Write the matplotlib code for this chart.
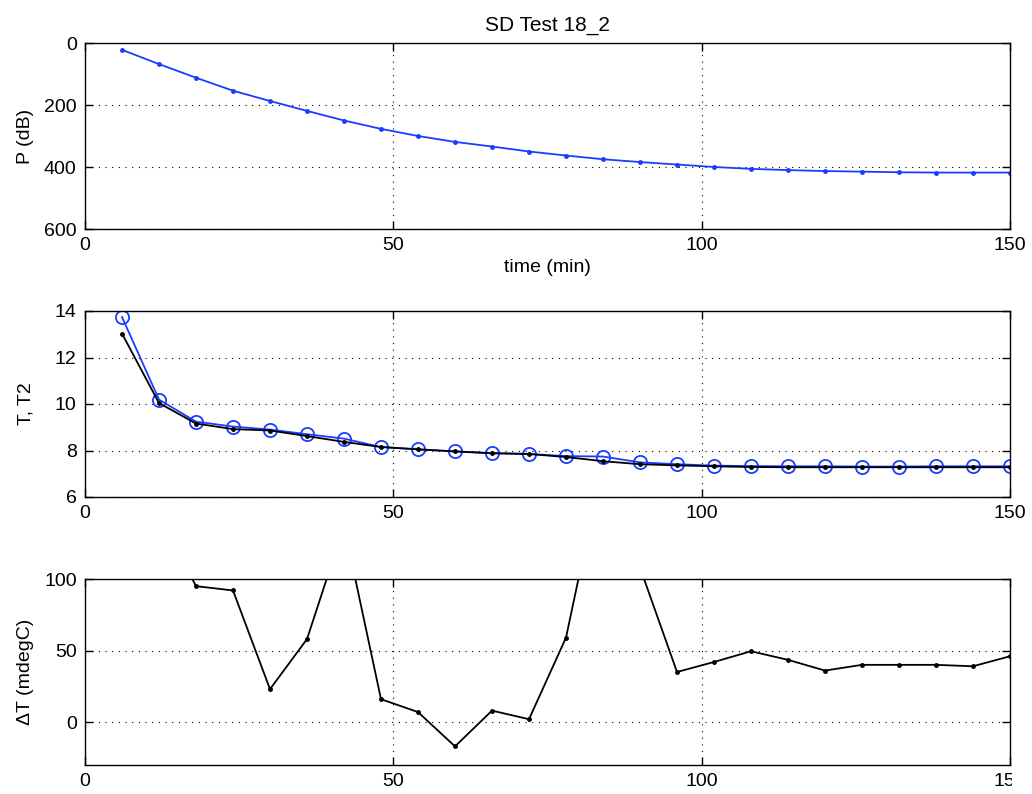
import numpy as np
import matplotlib
matplotlib.use('Agg')
import matplotlib.pyplot as plt
from matplotlib.transforms import Bbox

plt.rcParams['font.family'] = ['Liberation Sans', 'DejaVu Sans']
plt.rcParams['font.size'] = 12

# time axis (min)
t = [6, 12, 18, 24, 30, 36, 42, 48, 54, 60, 66, 72, 78,
     84, 90, 96, 102, 108, 114, 120, 126, 132, 138, 144, 150]

# pressure (dB)
P = [22, 68, 112, 154, 187, 219, 250, 277, 300, 319, 334, 350, 363,
     375, 384, 392, 400, 406, 410, 413, 415, 417, 418, 418, 418]

# temperatures
T = [13.03, 10.04, 9.16, 8.92, 8.86, 8.62, 8.37, 8.15, 8.05, 7.96, 7.88, 7.85, 7.72,
     7.54, 7.41, 7.36, 7.32, 7.29, 7.28, 7.28, 7.28, 7.28, 7.28, 7.28, 7.28]
T2 = [13.74, 10.19, 9.24, 9.03, 8.90, 8.70, 8.51, 8.15, 8.05, 7.96, 7.89, 7.85, 7.76,
      7.74, 7.49, 7.41, 7.35, 7.33, 7.32, 7.32, 7.31, 7.31, 7.32, 7.32, 7.32]

# delta T (mdegC)
dT = [700, 145, 95, 92, 23, 58, 137, 16, 7, -17, 8, 2, 59,
      181, 108, 35, 42, 49.5, 43.5, 36, 40, 40, 40, 39, 46]

blue = '#1a3cff'

fig = plt.figure(figsize=(10.32, 7.94), dpi=100)

W, H = 1032.0, 794.0
left = 85 / W
width = 925 / W
hgt = 186 / H

def setup(ax):
    ax.set_xlim(0, 150)
    ax.set_xticks([0, 50, 100, 150])
    ax.tick_params(direction='in', top=True, right=True, length=6, width=1,
                   labelsize=14, pad=6)
    ax.grid(True, color='k', linestyle=(0, (1, 5)), linewidth=0.8)
    for s in ax.spines.values():
        s.set_linewidth(1)

# top: pressure
ax1 = fig.add_axes([left, 1 - 229 / H, width, hgt])
ax1.plot(t, P, '.-', color=blue, lw=1.3, ms=5)
setup(ax1)
ax1.set_ylim(600, 0)
ax1.set_yticks([0, 200, 400, 600])
ax1.set_ylabel('P (dB)', fontsize=14)
ax1.set_xlabel('time (min)', fontsize=14, labelpad=3)
ax1.set_title('SD Test 18_2', fontsize=15, pad=9)

# middle: T, T2
ax2 = fig.add_axes([left, 1 - 497 / H, width, hgt])
ax2.plot(t, T2, 'o-', color=blue, mfc='none', ms=9.5, mew=1.3, lw=1.3)
ax2.plot(t, T, '.-', color='k', lw=1.3, ms=5)
setup(ax2)
ax2.set_ylim(6, 14)
ax2.set_yticks([6, 8, 10, 12, 14])
ax2.set_ylabel('T, T2', fontsize=14)

# bottom: delta T
ax3 = fig.add_axes([left, 1 - 765 / H, width, hgt])
ax3.plot(t, dT, '.-', color='k', lw=1.3, ms=5)
setup(ax3)
ax3.set_ylim(-30, 100)
ax3.set_yticks([0, 50, 100])
ax3.set_ylabel('\u0394T (mdegC)', fontsize=14)

for ax in (ax1, ax2, ax3):
    ax.yaxis.set_label_coords(-0.055, 0.5)

# the reference image is cropped through the last bottom tick label
fig.canvas.draw()
lbl = ax3.get_xticklabels()[-1]
lbl.set_clip_on(True)
lbl.set_clip_box(Bbox([[0, 0], [1012, 60]]))

fig.savefig('out.png', dpi=100)
